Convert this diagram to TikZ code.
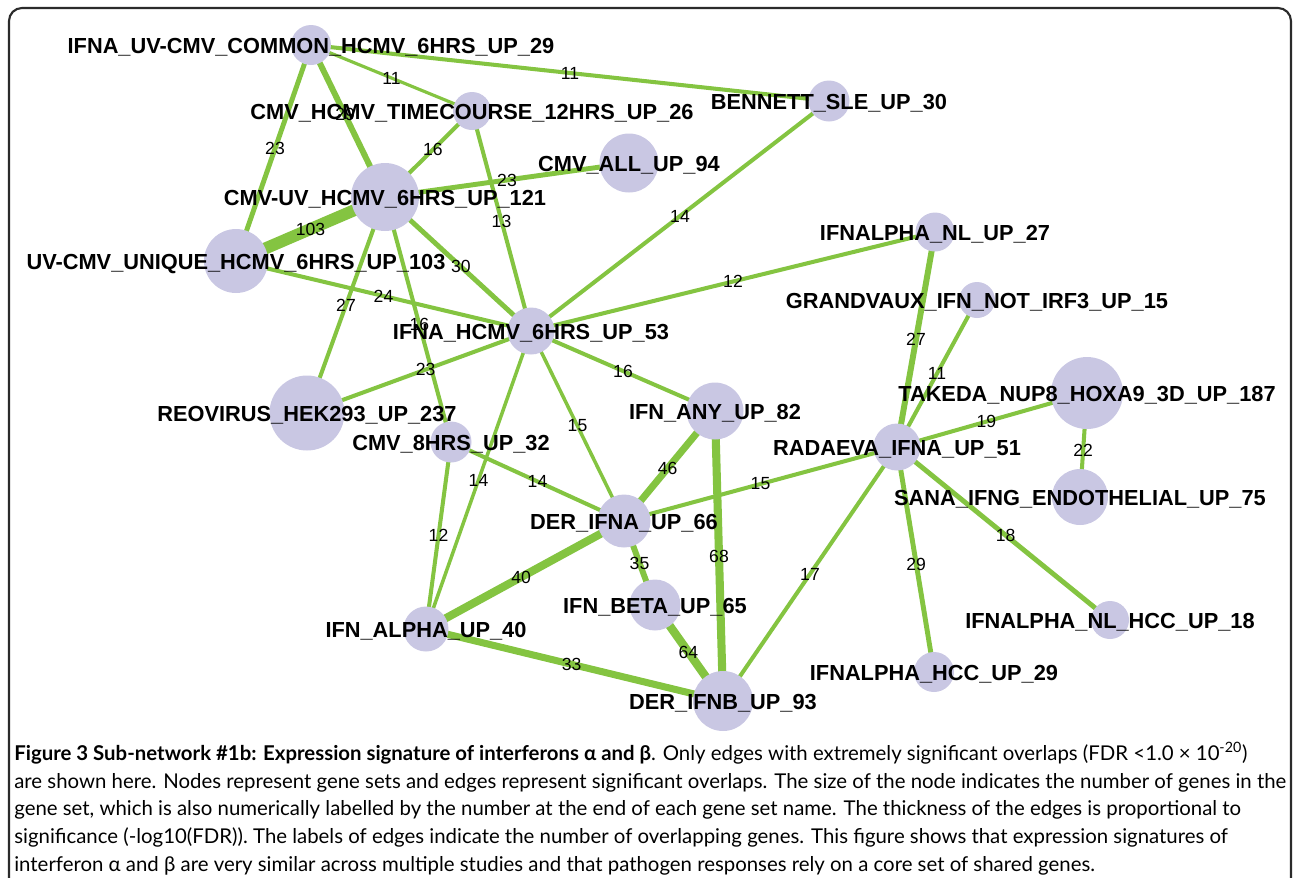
\documentclass[tikz,border=0pt]{standalone}
\usepackage{fontspec}
\setmainfont{Liberation Sans}
\newfontfamily\capfont{Lato}
\definecolor{nodefill}{HTML}{C9C7E3}
\definecolor{edgecol}{HTML}{84C441}
\definecolor{framecol}{HTML}{2B2B2B}
\pgfdeclarelayer{bg}
\pgfsetlayers{bg,main}

\begin{document}
\begin{tikzpicture}[x=0.02cm, y=-0.02cm,
	gnode/.style={circle, fill=nodefill, inner sep=0pt, minimum size=#1},
	nlabel/.style={font=\fontsize{12.4}{14}\selectfont\bfseries, anchor=base, yshift=-1.75mm, inner sep=0pt},
	gedge/.style={draw=edgecol, line width=#1},
	elabel/.style={font=\fontsize{10}{11}\selectfont, inner sep=0pt}]
	
	% 画布与外框
	\useasboundingbox (0,0) rectangle (1295,877);
	\clip (0,0) rectangle (1295,877);
	\draw[framecol, line width=1.2pt, rounded corners=2.6mm] (9,8) rectangle (1291,940); % 下边在画面之外
	
	% 基因集节点 (圆的大小 ~ 基因数)
	\node[gnode=8mm] (com) at (311,45) {};
	\node[gnode=7.6mm] (tc) at (472,111) {};
	\node[gnode=8.2mm] (ben) at (829,101) {};
	\node[gnode=11.8mm] (all) at (629,163) {};
	\node[gnode=13.6mm] (uv) at (385,197) {};
	\node[gnode=12.8mm] (uniq) at (236,261) {};
	\node[gnode=7.8mm] (nl) at (935,232) {};
	\node[gnode=7.2mm] (gra) at (977,300) {};
	\node[gnode=9.4mm] (h53) at (531,331) {};
	\node[gnode=15mm] (reo) at (307,413) {};
	\node[gnode=8.2mm] (h8) at (451,442) {};
	\node[gnode=11.4mm] (any) at (715,411) {};
	\node[gnode=14.4mm] (tak) at (1087,393) {};
	\node[gnode=9.4mm] (rad) at (897,447) {};
	\node[gnode=11.2mm] (sana) at (1080,497) {};
	\node[gnode=10.6mm] (dera) at (624,521) {};
	\node[gnode=10.2mm] (beta) at (655,605) {};
	\node[gnode=9mm] (alpha) at (426,629) {};
	\node[gnode=7.6mm] (nlhcc) at (1110,620) {};
	\node[gnode=8mm] (hcc) at (934,672) {};
	\node[gnode=12mm] (derb) at (723,701) {};
	
	% 边 (线宽 ~ 显著性, 数字 = 重叠基因数)
	\begin{pgfonlayer}{bg}
	\draw[gedge=2.3pt] (com.center) -- node[elabel] (w-com-ben) {11} (ben.center);
	\draw[gedge=1.8pt] (com.center) -- node[elabel] (w-com-tc) {11} (tc.center);
	\draw[gedge=2.8pt] (com.center) -- node[elabel, pos=0.48] (w-com-uniq) {23} (uniq.center);
	\draw[gedge=3.4pt] (com.center) -- node[elabel, pos=0.46] (w-com-uv) {29} (uv.center);
	\draw[gedge=2.3pt] (tc.center) -- node[elabel, pos=0.45] (w-tc-uv) {16} (uv.center);
	\draw[gedge=2.3pt] (tc.center) -- node[elabel] (w-tc-h53) {13} (h53.center);
	\draw[gedge=2.8pt] (uv.center) -- node[elabel] (w-uv-all) {23} (all.center);
	\draw[gedge=6.8pt] (uv.center) -- node[elabel] (w-uv-uniq) {103} (uniq.center);
	\draw[gedge=2.8pt] (uv.center) -- node[elabel, pos=0.52] (w-uv-h53) {30} (h53.center);
	\draw[gedge=2.3pt] (uv.center) -- node[elabel] (w-uv-reo) {27} (reo.center);
	\draw[gedge=2.3pt] (uv.center) -- node[elabel, pos=0.52] (w-uv-h8) {16} (h8.center);
	\draw[gedge=2.3pt] (uniq.center) -- node[elabel] (w-uniq-h53) {24} (h53.center);
	\draw[gedge=2.3pt] (ben.center) -- node[elabel] (w-ben-h53) {14} (h53.center);
	\draw[gedge=2.3pt] (nl.center) -- node[elabel] (w-nl-h53) {12} (h53.center);
	\draw[gedge=2.3pt] (h53.center) -- node[elabel, pos=0.47] (w-h53-reo) {23} (reo.center);
	\draw[gedge=2.3pt] (h53.center) -- node[elabel] (w-h53-any) {16} (any.center);
	\draw[gedge=2pt] (h53.center) -- node[elabel] (w-h53-dera) {15} (dera.center);
	\draw[gedge=2pt] (h53.center) -- node[elabel] (w-h53-alpha) {14} (alpha.center);
	\draw[gedge=2.3pt] (h8.center) -- node[elabel] (w-h8-dera) {14} (dera.center);
	\draw[gedge=2.3pt] (h8.center) -- node[elabel] (w-h8-alpha) {12} (alpha.center);
	\draw[gedge=4pt] (any.center) -- node[elabel, pos=0.52] (w-any-dera) {46} (dera.center);
	\draw[gedge=4.6pt] (any.center) -- node[elabel] (w-any-derb) {68} (derb.center);
	\draw[gedge=2.3pt] (dera.center) -- node[elabel] (w-dera-rad) {15} (rad.center);
	\draw[gedge=4.6pt] (dera.center) -- node[elabel, pos=0.52] (w-dera-alpha) {40} (alpha.center);
	\draw[gedge=3.4pt] (dera.center) -- node[elabel] (w-dera-beta) {35} (beta.center);
	\draw[gedge=4.8pt] (beta.center) -- node[elabel, pos=0.49] (w-beta-derb) {64} (derb.center);
	\draw[gedge=4pt] (alpha.center) -- node[elabel, pos=0.49] (w-alpha-derb) {33} (derb.center);
	\draw[gedge=2.3pt] (rad.center) -- node[elabel] (w-rad-derb) {17} (derb.center);
	\draw[gedge=3.4pt] (rad.center) -- node[elabel] (w-rad-nl) {27} (nl.center);
	\draw[gedge=2.3pt] (rad.center) -- node[elabel] (w-rad-gra) {11} (gra.center);
	\draw[gedge=2.3pt] (rad.center) -- node[elabel, pos=0.47] (w-rad-tak) {19} (tak.center);
	\draw[gedge=2.3pt] (tak.center) -- node[elabel, pos=0.55] (w-tak-sana) {22} (sana.center);
	\draw[gedge=2.8pt] (rad.center) -- node[elabel, pos=0.52] (w-rad-hcc) {29} (hcc.center);
	\draw[gedge=2.8pt] (rad.center) -- node[elabel, pos=0.51] (w-rad-nlhcc) {18} (nlhcc.center);
	\end{pgfonlayer}
	
	% 节点名称 (画在圆上面)
	\node[nlabel] (com-t) at (com) {IFNA\_UV-CMV\_COMMON\_HCMV\_6HRS\_UP\_29};
	\node[nlabel] (tc-t) at (tc) {CMV\_HCMV\_TIMECOURSE\_12HRS\_UP\_26};
	\node[nlabel] (ben-t) at (ben) {BENNETT\_SLE\_UP\_30};
	\node[nlabel] (all-t) at (all) {CMV\_ALL\_UP\_94};
	\node[nlabel] (uv-t) at (uv) {CMV-UV\_HCMV\_6HRS\_UP\_121};
	\node[nlabel] (uniq-t) at (uniq) {UV-CMV\_UNIQUE\_HCMV\_6HRS\_UP\_103};
	\node[nlabel] (nl-t) at (nl) {IFNALPHA\_NL\_UP\_27};
	\node[nlabel] (gra-t) at (gra) {GRANDVAUX\_IFN\_NOT\_IRF3\_UP\_15};
	\node[nlabel] (h53-t) at (h53) {IFNA\_HCMV\_6HRS\_UP\_53};
	\node[nlabel] (reo-t) at (reo) {REOVIRUS\_HEK293\_UP\_237};
	\node[nlabel] (h8-t) at (h8) {CMV\_8HRS\_UP\_32};
	\node[nlabel] (any-t) at (any) {IFN\_ANY\_UP\_82};
	\node[nlabel] (tak-t) at (tak) {TAKEDA\_NUP8\_HOXA9\_3D\_UP\_187};
	\node[nlabel] (rad-t) at (rad) {RADAEVA\_IFNA\_UP\_51};
	\node[nlabel] (sana-t) at (sana) {SANA\_IFNG\_ENDOTHELIAL\_UP\_75};
	\node[nlabel] (dera-t) at (dera) {DER\_IFNA\_UP\_66};
	\node[nlabel] (beta-t) at (beta) {IFN\_BETA\_UP\_65};
	\node[nlabel] (alpha-t) at (alpha) {IFN\_ALPHA\_UP\_40};
	\node[nlabel] (nlhcc-t) at (nlhcc) {IFNALPHA\_NL\_HCC\_UP\_18};
	\node[nlabel] (hcc-t) at (hcc) {IFNALPHA\_HCC\_UP\_29};
	\node[nlabel] (derb-t) at (derb) {DER\_IFNB\_UP\_93};
	
	% 图注
	\node[anchor=north west, inner sep=0pt, align=left,
	      font=\capfont\fontsize{11.6}{15.8}\selectfont] (caption) at (14,742)
	{\textbf{Figure 3 Sub-network \#1b: Expression signature of interferons α and β}. Only edges with extremely significant overlaps (FDR <1.0 × 10\textsuperscript{-20})\\
	are shown here. Nodes represent gene sets and edges represent significant overlaps. The size of the node indicates the number of genes in the\\
	gene set, which is also numerically labelled by the number at the end of each gene set name. The thickness of the edges is proportional to\\
	significance (-log10(FDR)). The labels of edges indicate the number of overlapping genes. This figure shows that expression signatures of\\
	interferon α and β are very similar across multiple studies and that pathogen responses rely on a core set of shared genes.};
	
\end{tikzpicture}
\end{document}
